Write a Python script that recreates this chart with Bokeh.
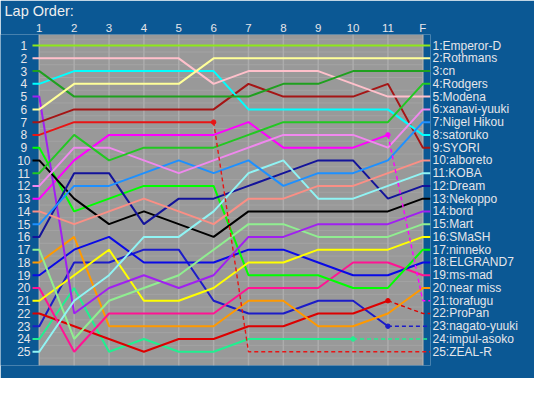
from bokeh.plotting import figure
from bokeh.models import Range1d, FixedTicker, LinearAxis
from bokeh.core.properties import value
from bokeh.embed import file_html
from bokeh.resources import INLINE

# ---------------- data ----------------
lap_labels = ["1", "2", "3", "4", "5", "6", "7", "8", "9", "10", "11", "F"]
row_labels = [str(i) for i in range(1, 26)]

# final classification order
names = ["Emperor-D", "Rothmans", "cn", "Rodgers", "Modena", "xanavi-yuuki",
         "Nigel Hikou", "satoruko", "SYORI", "alboreto", "KOBA", "Dream",
         "Nekoppo", "bord", "Mart", "SMaSH", "ninneko", "ELGRAND7", "ms-mad",
         "near miss", "torafugu", "ProPan", "nagato-yuuki", "impul-asoko", "ZEAL-R"]

colors = ["#8ee81a", "#ffff99", "#1fa01f", "#22c822", "#ffc0cb", "#f088ee",
          "#1e90ff", "#00ffff", "#a51515", "#fa8f85", "#90f4f4", "#13139a",
          "#000000", "#a020f0", "#90ee90", "#ffff00", "#00ff00", "#0a0ae6",
          "#ff1493", "#ff9900", "#ff00ff", "#dd0000", "#1c1cc8", "#20f090",
          "#e81515"]

# position at each lap (1..11, F); retired drivers stop at their last lap
emperor_d    = [1, 1, 1, 1, 1, 1, 1, 1, 1, 1, 1, 1]
rothmans     = [6, 4, 4, 4, 4, 2, 2, 2, 2, 2, 2, 2]
cn           = [3, 5, 5, 5, 5, 5, 5, 4, 4, 3, 3, 3]
rodgers      = [11, 8, 10, 9, 9, 9, 8, 7, 7, 7, 7, 4]
modena       = [2, 2, 2, 2, 2, 4, 3, 3, 3, 4, 5, 5]
xanavi_yuuki = [12, 9, 9, 10, 11, 10, 9, 8, 8, 8, 9, 6]
nigel_hikou  = [15, 12, 12, 11, 10, 11, 10, 12, 11, 11, 10, 7]
satoruko     = [4, 3, 3, 3, 3, 3, 6, 6, 6, 6, 6, 8]
syori        = [7, 6, 6, 6, 6, 6, 4, 5, 5, 5, 4, 9]
alboreto     = [14, 15, 14, 13, 14, 15, 13, 13, 12, 12, 11, 10]
koba         = [25, 21, 19, 16, 16, 14, 11, 10, 13, 13, 12, 11]
dream        = [16, 11, 11, 15, 13, 13, 12, 11, 10, 10, 13, 12]
nekoppo      = [10, 13, 15, 14, 15, 16, 14, 14, 14, 14, 14, 13]
bord         = [5, 22, 20, 19, 20, 19, 16, 16, 15, 15, 15, 14]
mart         = [17, 24, 21, 20, 19, 17, 15, 15, 16, 16, 16, 15]
smash        = [21, 19, 17, 21, 21, 20, 18, 18, 17, 17, 17, 16]
ninneko      = [9, 14, 13, 12, 12, 12, 19, 19, 19, 20, 20, 17]
elgrand7     = [19, 17, 16, 18, 18, 18, 17, 17, 18, 19, 19, 18]
ms_mad       = [20, 25, 22, 22, 22, 22, 20, 20, 20, 18, 18, 19]
near_miss    = [18, 16, 23, 23, 23, 23, 21, 21, 23, 23, 22, 20]
torafugu     = [13, 10, 8, 8, 8, 8, 7, 9, 9, 9, 8]
propan       = [22, 23, 24, 25, 24, 24, 23, 23, 22, 22, 21]
nagato_yuuki = [23, 18, 18, 17, 17, 21, 22, 22, 21, 21, 23]
impul_asoko  = [24, 20, 25, 24, 25, 25, 24, 24, 24, 24]
zeal_r       = [8, 7, 7, 7, 7, 7]

positions = [emperor_d, rothmans, cn, rodgers, modena, xanavi_yuuki, nigel_hikou,
             satoruko, syori, alboreto, koba, dream, nekoppo, bord, mart, smash,
             ninneko, elgrand7, ms_mad, near_miss, torafugu, propan, nagato_yuuki,
             impul_asoko, zeal_r]

# ---------------- geometry (pixels inside the figure) ----------------
W, H = 534, 378
FRAME_R = 430          # right edge of frame (end of right stubs)
FRAME_T, FRAME_B = 31, 365
LAP1_PX, LAPF_PX = 38.8, 422.3
ROW1_PX, ROWN_PX = 42.2, 351.1

n_laps = len(lap_labels)
lap_x = list(range(1, n_laps + 1))
rows = list(range(1, len(row_labels) + 1))

lap_px = (LAPF_PX - LAP1_PX) / (n_laps - 1)
x_start = 1 - LAP1_PX / lap_px
x_end = n_laps + (FRAME_R - LAPF_PX) / lap_px
stub_left = 1 - 6.8 / lap_px
label_left_x = 1 - 15.5 / lap_px

row_px = (ROWN_PX - ROW1_PX) / (len(rows) - 1)
y_top = 1 - (ROW1_PX - FRAME_T) / row_px
y_bottom = len(rows) + (FRAME_B - ROWN_PX) / row_px

BG = "#0b5894"
TXT = "#e6e6ea"

p = figure(width=W, height=H, output_backend="svg", toolbar_location=None,
           title="Lap Order:",
           x_range=Range1d(x_start, x_end), y_range=Range1d(y_bottom, y_top),
           x_axis_location="above", y_axis_location=None,
           min_border_left=0, min_border_right=W - FRAME_R,
           min_border_top=FRAME_T, min_border_bottom=H - FRAME_B)
p.background_fill_color = BG
p.border_fill_color = BG
p.outline_line_color = None
p.xgrid.visible = False
p.ygrid.visible = False

p.title.text_font = "Liberation Sans"
p.title.text_font_size = "14.5px"
p.title.text_font_style = "normal"
p.title.text_color = "#eeeeee"
p.title.align = "left"
p.title.offset = 4
p.title.standoff = 0

# gray plotting area
p.quad(left=[lap_x[0]], right=[lap_x[-1]], top=[y_top], bottom=[y_bottom],
       fill_color="#999999", line_color=None)
# grid
hy = [r - 0.5 for r in rows] + [rows[-1] + 0.5]
p.segment(x0=[lap_x[0]] * len(hy), x1=[lap_x[-1]] * len(hy), y0=hy, y1=hy,
          line_color="#a3a3a3", line_width=1)
p.segment(x0=lap_x, x1=lap_x, y0=[y_top] * n_laps, y1=[y_bottom] * n_laps,
          line_color="#acacac", line_width=1.5)

# lines
solid_xs, solid_ys, solid_c = [], [], []
dash_xs, dash_ys, dash_c = [], [], []
mk_x, mk_y, mk_c = [], [], []
for i, pos in enumerate(positions):
    final = i + 1
    k = len(pos)
    xs = [stub_left] + lap_x[:k]
    ys = [pos[0]] + pos
    if k == n_laps:
        xs = xs + [x_end]
        ys = ys + [pos[-1]]
    else:
        dx = lap_x[k - 1:] + [x_end]
        dy = [pos[-1]] + [final] * (len(dx) - 1)
        dash_xs.append(dx); dash_ys.append(dy); dash_c.append(colors[i])
        mk_x.append(lap_x[k - 1]); mk_y.append(pos[-1]); mk_c.append(colors[i])
    solid_xs.append(xs); solid_ys.append(ys); solid_c.append(colors[i])

order = list(range(len(solid_xs)))[::-1]
p.multi_line(xs=[solid_xs[j] for j in order], ys=[solid_ys[j] for j in order],
             line_color=[solid_c[j] for j in order], line_width=2)
p.multi_line(xs=dash_xs, ys=dash_ys, line_color=dash_c, line_width=1.4,
             line_dash="4 3")
p.scatter(x=mk_x, y=mk_y, color=mk_c, size=4.5)

# left row labels (start order)
p.text(x=[label_left_x] * len(rows), y=rows, text=row_labels,
       text_align="center", text_baseline="middle",
       text_font=value("Liberation Sans"), text_font_size="12px",
       text_color=TXT)

# top axis (laps)
xa = p.xaxis[0]
xa.ticker = FixedTicker(ticks=lap_x)
xa.major_label_overrides = {x: lbl for x, lbl in zip(lap_x, lap_labels)}
xa.axis_line_color = None
xa.major_tick_line_color = None
xa.minor_tick_line_color = None
xa.major_tick_out = 0
xa.major_tick_in = 0
xa.major_label_standoff = 1
xa.major_label_text_font = "Liberation Sans"
xa.major_label_text_font_size = "11.5px"
xa.major_label_text_color = TXT

# right axis (final order names)
ra = LinearAxis(ticker=FixedTicker(ticks=rows),
                major_label_overrides={r: f"{r}:{n}" for r, n in zip(rows, names)},
                axis_line_color=None, major_tick_line_color=None,
                minor_tick_line_color=None, major_tick_out=0, major_tick_in=0,
                major_label_standoff=2,
                major_label_text_font="Liberation Sans",
                major_label_text_font_size="12px",
                major_label_text_color=TXT)
p.add_layout(ra, "right")

open("out.html", "w").write(file_html(p, INLINE))
